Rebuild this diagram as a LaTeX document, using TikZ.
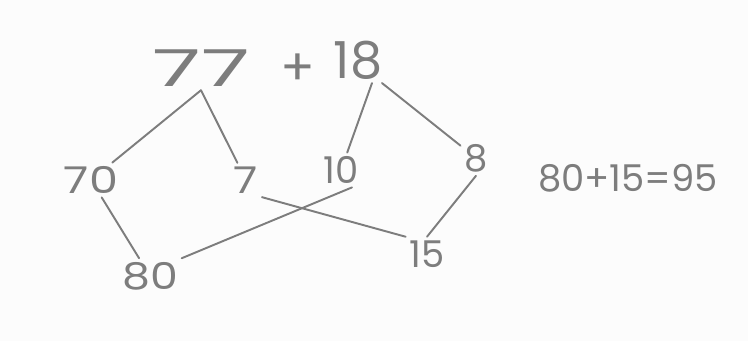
\documentclass[tikz,border=0pt]{standalone}
\usepackage{fontspec}
\usepackage{tikz}
\usetikzlibrary{positioning}
\newfontfamily\handfont{Poppins}
\definecolor{PencilGray}{RGB}{125,125,125}
\definecolor{PaperWhite}{RGB}{252,252,252}

\begin{document}
\begin{tikzpicture}[x=0.02cm,y=-0.02cm,
  num/.style={text=PencilGray,font=\handfont\fontsize{21}{24}\selectfont,inner sep=2pt},
  big/.style={text=PencilGray,font=\handfont\fontsize{29}{32}\selectfont,inner sep=2pt},
  link/.style={PencilGray,line width=1.1pt,line cap=round}]
\fill[PaperWhite] (0,0) rectangle (748,341);
\useasboundingbox (0,0) rectangle (748,341);
% top line
\node[big] (n77) at (201,68) {\scalebox{1.75}[1]{77}};
\node[big] (plus) at (298,70) {+};
\node[big] (n18) at (358,60) {18};
% partial sums
\foreach \x/\y/\lab/\sx in {91/180/70/1.25,246/180/7/1.2,341/170/10/1,476/158/8/1,150/276/80/1.2,427/254/15/1}
  {\node[num] (n\lab) at (\x,\y) {\scalebox{\sx}[1]{\lab}};}
\node[num] (sum) at (628,178) {80+15=95};
% split lines
\draw[link] (n77.south) -- (n70);
\draw[link] (n77.south) -- (n7);
\draw[link] ([xshift=0.28cm]n18.south) -- (n10);
\draw[link] ([xshift=0.48cm]n18.south) -- (n8);
% regroup lines
\draw[link] (n70) -- (n80);
\draw[link] ([xshift=0.22cm]n10.south) -- (n80.north east);
\draw[link] (n7.south east) -- (n15.north west);
\draw[link] (n8.south) -- (n15.north);
\end{tikzpicture}
\end{document}
